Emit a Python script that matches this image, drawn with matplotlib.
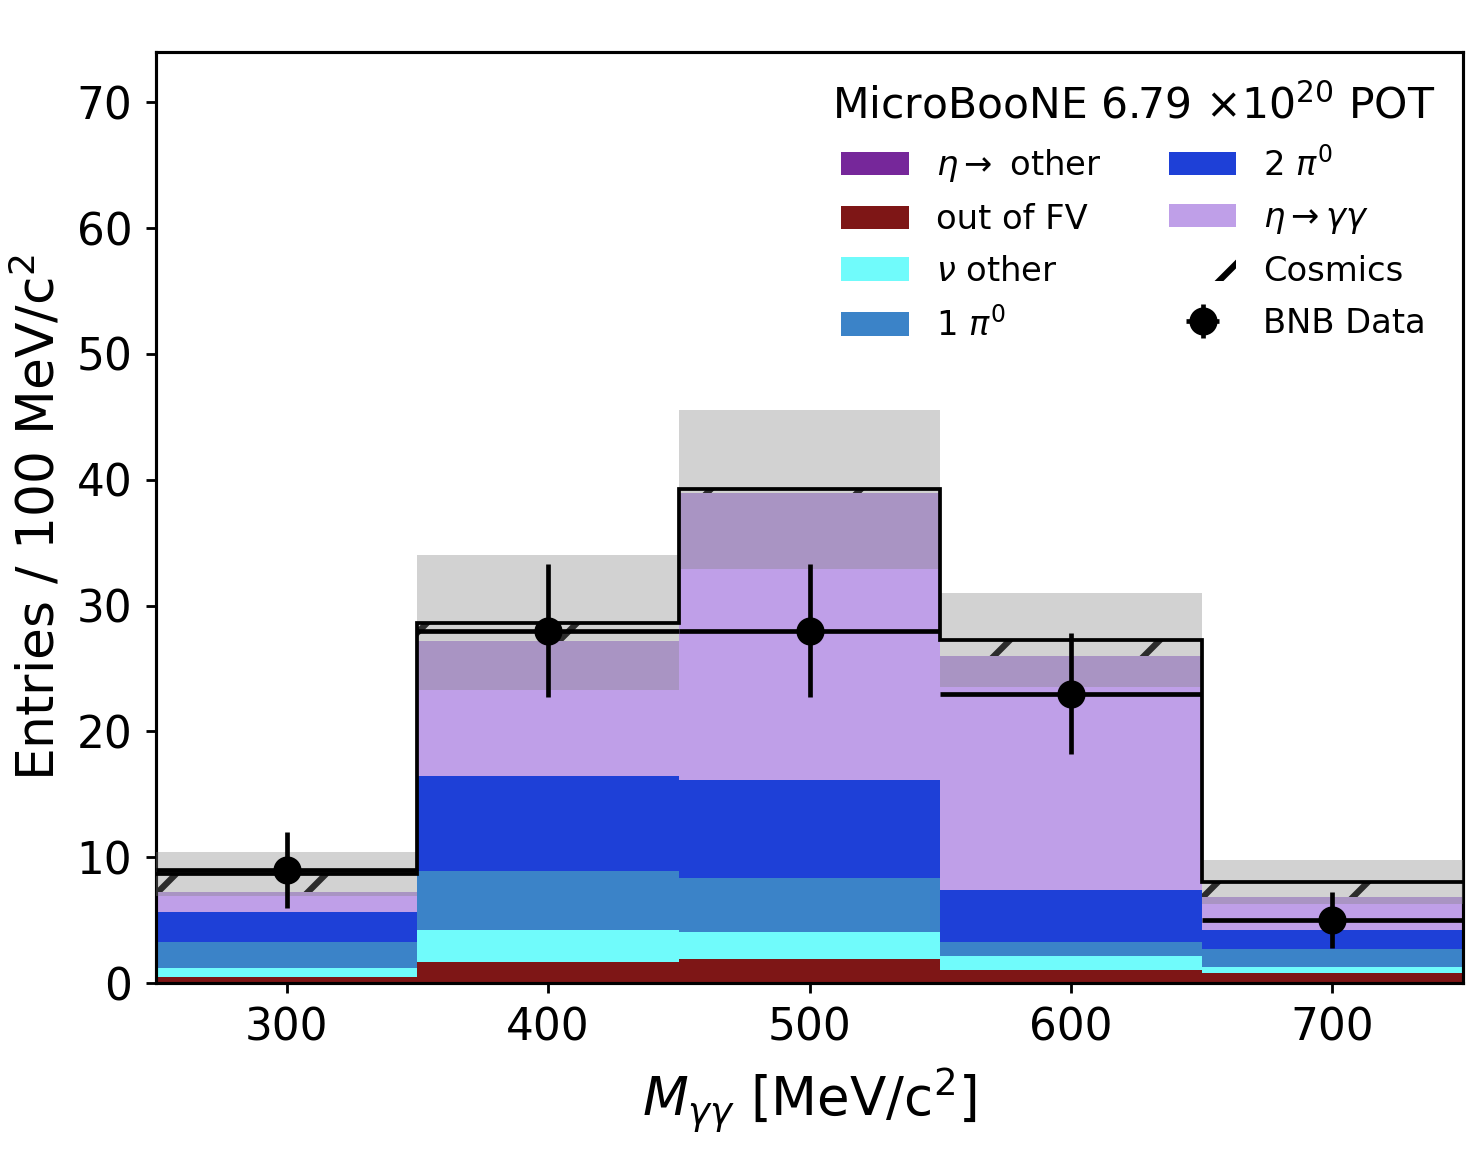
import numpy as np
from matplotlib import pyplot as plt

# bin centres / edges in MeV/c^2
centers = np.array([300, 400, 500, 600, 700])
edges = np.array([250, 350, 450, 550, 650, 750])

# stacked MC components (entries per bin), bottom to top
eta_other = np.array([0.0, 0.0, 0.0, 0.0, 0.0])
out_fv = np.array([0.50, 1.70, 1.91, 1.04, 0.77])
nu_other = np.array([0.67, 2.52, 2.17, 1.14, 0.53])
one_pi0 = np.array([2.07, 4.65, 4.28, 1.11, 1.38])
two_pi0 = np.array([2.44, 7.56, 7.74, 4.12, 1.54])
eta_gg = np.array([1.59, 10.75, 22.84, 18.59, 2.65])
cosmics = np.array([1.39, 1.47, 0.30, 1.24, 1.15])

# systematic uncertainty on the total prediction
mc_err = np.array([1.75, 5.35, 6.30, 3.75, 1.72])

# BNB data
data = np.array([9, 28, 28, 23, 5])

plt.rcParams['font.family'] = ['DejaVu Sans']
plt.rcParams['hatch.linewidth'] = 1.0

fig = plt.figure(figsize=(1478/450, 1170/450), dpi=450)
ax = fig.add_axes([0.1055, 0.1598, 0.8844, 0.7958])

width = edges[1:] - edges[:-1]
comps = [
    (eta_other, '#76279A', r'$\eta \rightarrow$ other'),
    (out_fv, '#7E1616', 'out of FV'),
    (nu_other, '#70FBFB', r'$\nu$ other'),
    (one_pi0, '#3B83C8', r'1 $\pi^0$'),
    (two_pi0, '#1E40D7', r'2 $\pi^0$'),
    (eta_gg, '#BF9FE8', r'$\eta \rightarrow \gamma\gamma$'),
]
bottom = np.zeros(len(centers))
handles = []
for vals, col, lab in comps:
    h = ax.bar(centers, vals, width=width, bottom=bottom, color=col,
               linewidth=0, label=lab)
    handles.append(h)
    bottom = bottom + vals

h = ax.bar(centers, cosmics, width=width, bottom=bottom, color='white',
           edgecolor='black', hatch='/', linewidth=0, label='Cosmics')
handles.append(h)
total = bottom + cosmics

# uncertainty band
ax.bar(centers, 2*mc_err, width=width, bottom=total - mc_err, color='grey',
       alpha=0.35, linewidth=0, zorder=3)

ax.stairs(total, edges, baseline=None, color='black', lw=0.6, zorder=4)

eb = ax.errorbar(centers, data, xerr=width/2, yerr=np.sqrt(data), fmt='o',
                 color='black', ms=3.5, lw=0.75, capsize=0, zorder=5,
                 label='BNB Data')
handles.append(eb)

ax.set_xlim(250, 750)
ax.set_ylim(0, 74)
ax.set_xticks([300, 400, 500, 600, 700])
ax.set_yticks(np.arange(0, 71, 10))
ax.tick_params(labelsize=7, length=1.6, width=0.45, pad=2.2)
for s in ax.spines.values():
    s.set_linewidth(0.5)

ax.set_xlabel(r'$M_{\gamma\gamma}$ [MeV/c$^2$]', fontsize=8.5, labelpad=2.5)
ax.set_ylabel('Entries / 100 MeV/c$^2$', fontsize=8.3, labelpad=1.7)

leg = ax.legend(handles=handles, ncol=2, loc='upper right', frameon=False,
                fontsize=5.4, title=r'MicroBooNE 6.79 $\times$10$^{20}$ POT',
                title_fontsize=6.8, handlelength=2.0, handletextpad=0.8,
                labelspacing=0.56, columnspacing=2.0,
                bbox_to_anchor=(1.002, 0.997))

fig.savefig('out.png', dpi=450)
